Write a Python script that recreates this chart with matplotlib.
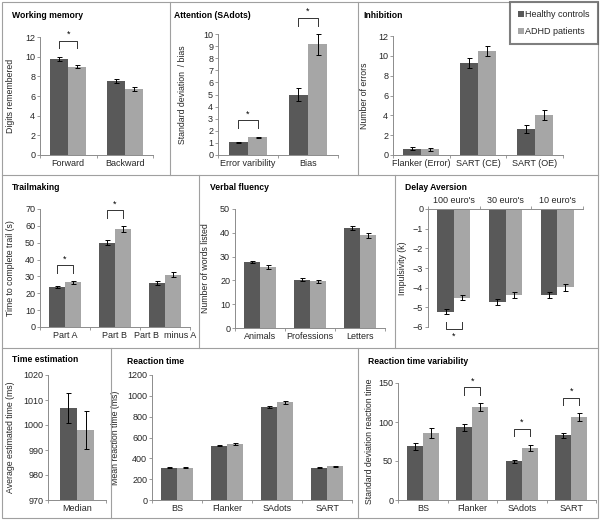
import numpy as np
import matplotlib
matplotlib.use('Agg')
import matplotlib.pyplot as plt
from matplotlib.patches import Rectangle, Patch
from matplotlib.lines import Line2D

plt.rcParams['font.family'] = ['Liberation Sans', 'DejaVu Sans']

HC_COLOR = '#595959'
ADHD_COLOR = '#a6a6a6'
FRAME = '#a0a0a0'
TXT = '#262626'
W, H = 600, 520

# ---- data (mean, s.e.) ----
wm_labels = ['Forward', 'Backward']
wm_hc = [9.8, 7.5]
wm_hc_err = [0.2, 0.2]
wm_adhd = [9.0, 6.7]
wm_adhd_err = [0.2, 0.2]
wm_sig = [0]

att_labels = ['Error varibility', 'Bias']
att_hc = [1.05, 5.0]
att_hc_err = [0.05, 0.55]
att_adhd = [1.45, 9.15]
att_adhd_err = [0.07, 0.85]
att_sig = [0, 1]

inh_labels = ['Flanker (Error)', 'SART (CE)', 'SART (OE)']
inh_hc = [0.65, 9.3, 2.6]
inh_hc_err = [0.15, 0.5, 0.4]
inh_adhd = [0.6, 10.5, 4.05]
inh_adhd_err = [0.15, 0.5, 0.5]

tm_labels = ['Part A', 'Part B', 'Part B  minus A']
tm_hc = [23.7, 50.0, 26.0]
tm_hc_err = [0.6, 1.5, 1.2]
tm_adhd = [26.4, 58.0, 31.0]
tm_adhd_err = [0.8, 1.7, 1.6]
tm_sig = [0, 1]

vf_labels = ['Animals', 'Professions', 'Letters']
vf_hc = [27.8, 20.3, 42.0]
vf_hc_err = [0.5, 0.5, 0.9]
vf_adhd = [25.7, 19.7, 38.9]
vf_adhd_err = [0.7, 0.6, 1.0]

da_labels = ["100 euro's", "30 euro's", "10 euro's"]
da_hc = [-5.22, -4.75, -4.38]
da_hc_err = [0.12, 0.15, 0.15]
da_adhd = [-4.5, -4.38, -3.97]
da_adhd_err = [0.15, 0.15, 0.18]
da_sig = [0]

te_labels = ['Median']
te_hc = [1007]
te_hc_err = [6]
te_adhd = [998]
te_adhd_err = [7.5]

rt_labels = ['BS', 'Flanker', 'SAdots', 'SART']
rt_hc = [310, 522, 893, 310]
rt_hc_err = [6, 7, 9, 6]
rt_adhd = [310, 535, 940, 323]
rt_adhd_err = [6, 8, 15, 5]

rtv_labels = ['BS', 'Flanker', 'SAdots', 'SART']
rtv_hc = [69, 93, 49.5, 83]
rtv_hc_err = [4.5, 4, 2, 3]
rtv_adhd = [86, 119, 67, 106]
rtv_adhd_err = [6, 5, 4, 5]
rtv_sig = [1, 2, 3]


def fx(x):
    return x / W


def fy(y):
    return 1 - y / H


def panel(fig, box, title, title_xy, ylabel, ylabel_x, labels, hc, hc_err,
          adhd, adhd_err, ylim, yticks, sig=(), top_axis=False, bw=0.32):
    x0, y0, x1, y1 = box
    ax = fig.add_axes([fx(x0), fy(y1), fx(x1 - x0), (y1 - y0) / H])
    n = len(labels)
    centers = np.arange(n) + 0.5
    xd = centers - bw / 2
    xa = centers + bw / 2
    ek = dict(ecolor='black', elinewidth=0.7, capsize=1.8, capthick=0.7)
    ax.bar(xd, hc, bw, color=HC_COLOR, yerr=hc_err, error_kw=ek, zorder=2)
    ax.bar(xa, adhd, bw, color=ADHD_COLOR, yerr=adhd_err, error_kw=ek, zorder=2)
    ax.set_xlim(0, n)
    ax.set_ylim(*ylim)
    ax.set_yticks(yticks)
    ax.set_xticks(centers)
    ax.set_xticklabels(labels)
    ax.set_xticks(np.arange(n + 1), minor=True)
    for s in ['right', 'top', 'bottom']:
        ax.spines[s].set_visible(False)
    ax.spines['left'].set_color('#8c8c8c')
    ax.spines['left'].set_linewidth(0.7)
    if top_axis:
        ax.spines['top'].set_visible(True)
        ax.spines['top'].set_color('#8c8c8c')
        ax.spines['top'].set_linewidth(0.7)
        ax.xaxis.tick_top()
    else:
        ax.spines['bottom'].set_visible(True)
        ax.spines['bottom'].set_color('#8c8c8c')
        ax.spines['bottom'].set_linewidth(0.7)
    ax.tick_params(axis='y', length=2, width=0.6, color='#8c8c8c',
                   labelsize=6.5, labelcolor=TXT, pad=1.5)
    ax.tick_params(axis='x', which='major', length=0, labelsize=6.5,
                   labelcolor=TXT, pad=3)
    ax.tick_params(axis='x', which='minor', length=2, width=0.6, color='#8c8c8c')
    ax.set_facecolor('none')
    ax.set_ylabel(ylabel, fontsize=6.3, color=TXT)
    ax.yaxis.set_label_coords(fx(ylabel_x), fy((y0 + y1) / 2), transform=fig.transFigure)
    fig.text(fx(title_xy[0]), fy(title_xy[1]), title, fontsize=6.2,
             fontweight='bold', color='black', va='center', ha='left')

    r = ylim[1] - ylim[0]
    for i in sig:
        if top_axis:
            lo = min(hc[i] - hc_err[i], adhd[i] - adhd_err[i])
            b0 = lo - 0.07 * r
            b1 = b0 - 0.06 * r
            ax.plot([xd[i], xd[i], xa[i], xa[i]], [b0, b1, b1, b0],
                    color='#333333', lw=0.7, clip_on=False)
            ax.text(centers[i], b1 - 0.02 * r, '*', ha='center', va='top',
                    fontsize=6.5, clip_on=False)
        else:
            hi = max(hc[i] + hc_err[i], adhd[i] + adhd_err[i])
            b0 = hi + 0.07 * r
            b1 = b0 + 0.065 * r
            ax.plot([xd[i], xd[i], xa[i], xa[i]], [b0, b1, b1, b0],
                    color='#333333', lw=0.7, clip_on=False)
            ax.text(centers[i], b1 + 0.015 * r, '*', ha='center', va='bottom',
                    fontsize=6.5, clip_on=False)
    return ax


fig = plt.figure(figsize=(6.0, 5.2), dpi=100)

# panel frames
fig.add_artist(Rectangle((fx(2), fy(518)), fx(596), 516 / H, transform=fig.transFigure,
                         fill=False, edgecolor=FRAME, lw=0.8))
for yy in [175, 348]:
    fig.add_artist(Line2D([fx(2), fx(598)], [fy(yy), fy(yy)], transform=fig.transFigure,
                          color=FRAME, lw=0.8))
for xx, ya, yb in [(170, 2, 175), (358, 2, 175), (199, 175, 348), (395, 175, 348),
                   (111, 348, 518), (358, 348, 518)]:
    fig.add_artist(Line2D([fx(xx), fx(xx)], [fy(ya), fy(yb)], transform=fig.transFigure,
                          color=FRAME, lw=0.8))

panel(fig, (40, 37, 153, 155), 'Working memory', (12, 16), 'Digits remembered', 15,
      wm_labels, wm_hc, wm_hc_err, wm_adhd, wm_adhd_err, (0, 12), range(0, 13, 2), wm_sig)
panel(fig, (218, 34, 338, 155), 'Attention (SAdots)', (174, 16), 'Standard deviation  / bias', 187,
      att_labels, att_hc, att_hc_err, att_adhd, att_adhd_err, (0, 10), range(0, 11), att_sig)
panel(fig, (393, 36, 563, 155), 'Inhibition', (363, 16), 'Number of errors', 369,
      inh_labels, inh_hc, inh_hc_err, inh_adhd, inh_adhd_err, (0, 12), range(0, 13, 2))
panel(fig, (40, 209, 190, 327), 'Trailmaking', (12, 188), 'Time to complete trail (s)', 15,
      tm_labels, tm_hc, tm_hc_err, tm_adhd, tm_adhd_err, (0, 70), range(0, 71, 10), tm_sig)
panel(fig, (235, 209, 385, 328), 'Verbal fluency', (210, 188), 'Number of words listed', 210,
      vf_labels, vf_hc, vf_hc_err, vf_adhd, vf_adhd_err, (0, 50), range(0, 51, 10))
panel(fig, (428, 209, 583, 327), 'Delay Aversion', (405, 188), 'Impulsivity (k)', 407,
      da_labels, da_hc, da_hc_err, da_adhd, da_adhd_err, (-6, 0), range(-6, 1), da_sig,
      top_axis=True)
panel(fig, (48, 375, 106, 500), 'Time estimation', (12, 360), 'Average estimated time (ms)', 15,
      te_labels, te_hc, te_hc_err, te_adhd, te_adhd_err, (970, 1020), range(970, 1021, 10),
      bw=0.3)
panel(fig, (152, 375, 352, 500), 'Reaction time', (127, 362), 'Mean reaction time (ms)', 120,
      rt_labels, rt_hc, rt_hc_err, rt_adhd, rt_adhd_err, (0, 1200), range(0, 1201, 200))
panel(fig, (398, 383, 596, 500), 'Reaction time variability', (368, 361),
      'Standard deviation reaction time', 374,
      rtv_labels, rtv_hc, rtv_hc_err, rtv_adhd, rtv_adhd_err, (0, 150), range(0, 151, 50),
      rtv_sig)

handles = [Patch(facecolor=HC_COLOR), Patch(facecolor=ADHD_COLOR)]
leg = fig.legend(handles, ['Healthy controls', 'ADHD patients'], loc='upper right',
                 bbox_to_anchor=(fx(598), fy(2)), fontsize=6.5, frameon=True,
                 fancybox=False, handlelength=0.6, handleheight=0.6, handletextpad=0.2,
                 borderpad=0.9, labelspacing=0.9, borderaxespad=0)
leg.get_frame().set_edgecolor('#5f5f5f')
leg.get_frame().set_linewidth(1.5)
for t in leg.get_texts():
    t.set_color(TXT)

fig.savefig('out.png', dpi=100)
